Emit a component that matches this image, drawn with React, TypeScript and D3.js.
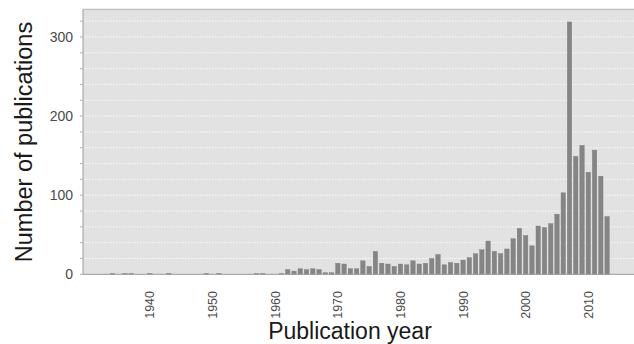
import React from "react";
import * as d3 from "d3";

const years: number[] = [
  1934, 1936, 1937, 1940, 1943, 1949, 1951, 1957, 1958,
  1961, 1962, 1963, 1964, 1965, 1966, 1967, 1968, 1969,
  1970, 1971, 1972, 1973, 1974, 1975, 1976, 1977, 1978, 1979,
  1980, 1981, 1982, 1983, 1984, 1985, 1986, 1987, 1988, 1989,
  1990, 1991, 1992, 1993, 1994, 1995, 1996, 1997, 1998, 1999,
  2000, 2001, 2002, 2003, 2004, 2005, 2006, 2007, 2008, 2009,
  2010, 2011, 2012, 2013,
];
const publications: number[] = [
  1, 1, 1, 1, 1, 1, 1, 1, 1,
  1, 6, 4, 7, 6, 7, 6, 2, 2,
  14, 13, 7, 7, 17, 10, 29, 14, 13, 10,
  13, 12, 17, 13, 14, 20, 25, 12, 15, 14,
  18, 21, 26, 31, 42, 29, 26, 32, 45, 58,
  49, 36, 61, 59, 64, 76, 103, 319, 149, 163,
  129, 157, 124, 73,
];
const yTicks: number[] = [0, 100, 200, 300];
const xTicks: number[] = [1940, 1950, 1960, 1970, 1980, 1990, 2000, 2010];
const yLabel = "Number of publications";
const xLabel = "Publication year";

const W = 634;
const H = 344;
const L = 83;
const R = 634;
const T = 9.3;
const B = 274.3;

export default function App() {
  const x = d3.scaleLinear().domain([1929.3, 2017.3]).range([L, R]);
  const y = d3.scaleLinear().domain([0, 335]).range([B, T]);
  const grid = d3.range(20, 335, 20);
  const bw = 4.4;
  return (
    <svg
      width={W}
      height={H}
      style={{ position: "absolute", left: 0, top: 0, background: "#fff" }}
      fontFamily="'Liberation Sans', Arial, sans-serif"
    >
      <rect x={L} y={T} width={R - L} height={B - T} fill="#e2e2e2" />
      {grid.map((g) => (
        <line
          key={g}
          x1={L}
          x2={R}
          y1={y(g)}
          y2={y(g)}
          stroke="#fafafa"
          strokeWidth={1}
          strokeDasharray="1.5,1.5"
        />
      ))}
      <line x1={L} x2={R} y1={T} y2={T} stroke="#b5b5b5" strokeWidth={1} />
      {years.map((yr, i) => (
        <rect
          key={yr}
          x={x(yr) - bw / 2}
          y={y(publications[i])}
          width={bw}
          height={B - y(publications[i])}
          fill="#858585"
          stroke="#7a7a7a"
          strokeWidth={0.4}
        />
      ))}
      <line x1={L} x2={L} y1={T} y2={B} stroke="#9a9a9a" strokeWidth={1} />
      <line x1={L} x2={R} y1={B} y2={B} stroke="#9a9a9a" strokeWidth={1} />
      {[0, ...grid].map((g) => (
        <line key={"t" + g} x1={L - 3} x2={L} y1={y(g)} y2={y(g)} stroke="#b0b0b0" strokeWidth={1} />
      ))}
      {yTicks.map((t) => (
        <text
          key={t}
          x={73}
          y={y(t) + 5}
          textAnchor="end"
          fontSize={14}
          fill="#4a4a4a"
        >
          {t}
        </text>
      ))}
      {xTicks.map((t) => (
        <text
          key={t}
          transform={`translate(${x(t) + 4.5},291) rotate(-90)`}
          textAnchor="end"
          fontSize={12.5}
          fill="#4a4a4a"
        >
          {t}
        </text>
      ))}
      <text
        x={350}
        y={338.5}
        textAnchor="middle"
        fontSize={23}
        fill="#1a1a1a"
      >
        {xLabel}
      </text>
      <text
        transform={`translate(32,142) rotate(-90)`}
        textAnchor="middle"
        fontSize={23.5}
        fill="#1a1a1a"
      >
        {yLabel}
      </text>
    </svg>
  );
}
